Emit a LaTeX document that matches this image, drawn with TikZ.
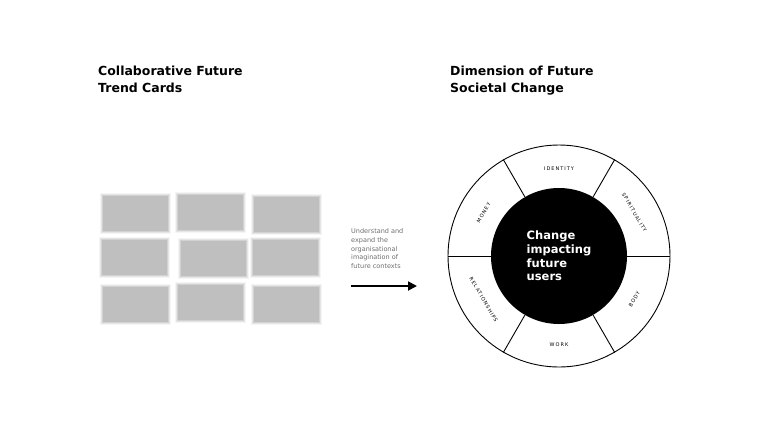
\documentclass[tikz,border=0pt]{standalone}
\usepackage{fontspec}
\setmainfont{DejaVu Sans}
\newfontfamily\ringfont[LetterSpace=20]{DejaVu Sans}
\usetikzlibrary{arrows.meta,positioning,calc}
\definecolor{CardGrey}{HTML}{BFBFBF}
\definecolor{NoteGrey}{HTML}{6E6E6E}

\begin{document}
\begin{tikzpicture}[x=1pt, y=1pt,
  heading/.style={anchor=north west, inner sep=0pt, align=left,
                  font=\fontsize{12.5}{17.5}\selectfont\bfseries},
  card/.style={fill=CardGrey, minimum width=65pt, minimum height=35pt, inner sep=0pt,
               preaction={draw=CardGrey, draw opacity=0.15, line width=6pt},
               preaction={draw=CardGrey, draw opacity=0.3, line width=4pt},
               preaction={draw=CardGrey, draw opacity=0.5, line width=2pt}},
  note/.style={anchor=north west, inner sep=0pt, align=left, text=NoteGrey,
               font=\fontsize{6.5}{8.6}\selectfont},
  arr/.style={-{Triangle[length=9pt, width=9pt]}, line width=1.8pt},
  ringlabel/.style={font=\fontsize{5}{6}\ringfont, inner sep=0pt},
  seg/.style={line width=0.9pt}
]
\useasboundingbox (0,0) rectangle (768,-432);

\node[heading] (lefthead) at (98,-65.5) {Collaborative Future\\Trend Cards};
\node[heading] (righthead) at (450,-65.5) {Dimension of Future\\Societal Change};

% blurred trend cards
\node[card] (cardA) at (135.3,-213.8) {};
\node[card] (cardB) at (210.8,-212.5) {};
\node[card] (cardC) at (286.7,-214.2) {};
\node[card] (cardD) at (134.5,-257.5) {};
\node[card] (cardE) at (213,-258.3) {};
\node[card] (cardF) at (285,-257.5) {};
\node[card] (cardG) at (135.3,-304.2) {};
\node[card] (cardH) at (210.8,-302.5) {};
\node[card] (cardI) at (286.7,-304.7) {};

\node[note] (explain) at (351,-228.8)
  {Understand and\\expand the\\organisational\\imagination of\\future contexts};

\coordinate (arrtail) at (351,-286);
\coordinate (arrhead) at (417,-286);
\draw[arr] (arrtail) -- (arrhead);

% dimensions wheel
\coordinate (ctr) at (559,-256);
\node[circle, draw, line width=0.9pt, minimum size=222pt, inner sep=0pt] (rim) at (ctr) {};
\node[circle, fill=black, minimum size=136pt, inner sep=0pt, text=white, align=left,
      font=\fontsize{11.5}{13.8}\selectfont\bfseries] (hub) at (ctr)
  {Change\\impacting\\future\\users};
\foreach \a in {0,60,...,300}
  \draw[seg] (hub.\a) -- (rim.\a);

\node[ringlabel] (identity) at ([shift={(90:87)}]ctr) {IDENTITY};
\node[ringlabel, rotate=-60] (spirit) at ([shift={(30:87)}]ctr) {SPIRITUALITY};
\node[ringlabel, rotate=60] (body) at ([shift={(-30:87)}]ctr) {BODY};
\node[ringlabel] (work) at ([shift={(-90:89)}]ctr) {WORK};
\node[ringlabel, rotate=-60] (relations) at ([shift={(210:87)}]ctr) {RELATIONSHIPS};
\node[ringlabel, rotate=60] (money) at ([shift={(150:87)}]ctr) {MONEY};

\end{tikzpicture}
\end{document}
